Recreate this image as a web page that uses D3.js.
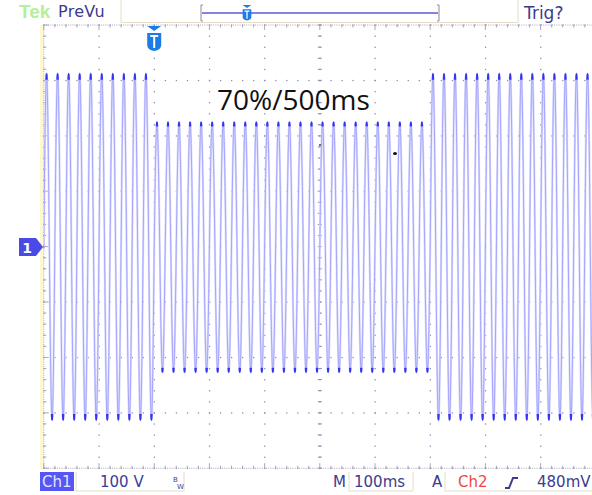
<!DOCTYPE html>
<meta charset="utf-8">
<script src="https://d3js.org/d3.v7.min.js"></script>
<style>
  body { margin: 0; background: #fff; }
  svg { display: block; }
</style>
<body>
<script>
"use strict"

// horizontal: 100 ms/div, trigger at 2 div from the left edge
var timeDomainMs = [-200, 800]
// vertical: 100 V/div, 8 divisions
var voltDomain = [-400, 400]

// peak voltage of each 20 ms cycle (50 Hz mains)
var cyclePosPeakV = [311, 311, 311, 311, 311, 311, 311, 311, 311, 311,
                     224, 224, 224, 224, 224, 224, 224, 224, 224, 224,
                     224, 224, 224, 224, 224, 224, 224, 224, 224, 224,
                     224, 224, 224, 224, 224, 311, 311, 311, 311, 311,
                     311, 311, 311, 311, 311, 311, 311, 311, 311, 311]
var cycleNegPeakV = [-312, -312, -312, -312, -312, -312, -312, -312, -312, -312,
                     -226, -226, -226, -226, -226, -226, -226, -226, -226, -226,
                     -226, -226, -226, -226, -226, -226, -226, -226, -226, -226,
                     -226, -226, -226, -226, -226, -312, -312, -312, -312, -312,
                     -312, -312, -312, -312, -312, -312, -312, -312, -312, -312]
var cycleMs = 20

var annotation = "70%/500ms"
var headerLeft = ["Tek", "PreVu"]
var footerTexts = ["Ch1", "100 V", "M", "100ms", "A", "Ch2", "480mV"]

var W = 592, H = 495
var svg = d3.select("body").append("svg").attr("width", W).attr("height", H)

var x = d3.scaleLinear().domain(timeDomainMs).range([43.8, 595.8])
var y = d3.scaleLinear().domain(voltDomain).range([468.2, 25])

var grid = svg.append("g")
var dotColor = "#8e8eb4"

// left yellow strip
grid.append("rect").attr("x", 40).attr("y", 25).attr("width", 3.5).attr("height", 444).attr("fill", "#fdf8d0")

// dotted major grid lines, a dot every 1/5 division
var majorT = d3.range(-200, 801, 100)
var majorV = d3.range(-400, 401, 100)
var minorT = d3.range(-200, 801, 20)
var minorV = d3.range(-400, 401, 20)

majorT.forEach(function(t) {
  minorV.forEach(function(v) {
    grid.append("rect").attr("x", x(t) - 0.5).attr("y", y(v) - 0.5)
      .attr("width", 1.3).attr("height", 1.3).attr("fill", dotColor)
  })
})
majorV.forEach(function(v) {
  minorT.forEach(function(t) {
    grid.append("rect").attr("x", x(t) - 0.5).attr("y", y(v) - 0.5)
      .attr("width", 1.3).attr("height", 1.3).attr("fill", dotColor)
  })
})

// frame edges: dense dots with small ticks
function edgeH(yy, dir) {
  grid.append("line").attr("x1", x(-200)).attr("x2", W).attr("y1", yy).attr("y2", yy)
    .attr("stroke", "#a8a8b8").attr("stroke-dasharray", "1,1.2")
  minorT.forEach(function(t) {
    var len = (t % 100 === 0) ? 5 : 2.5
    grid.append("line").attr("x1", x(t)).attr("x2", x(t)).attr("y1", yy).attr("y2", yy + dir * len)
      .attr("stroke", "#a8a8c0")
  })
}
function edgeV(xx, dir) {
  grid.append("line").attr("x1", xx).attr("x2", xx).attr("y1", y(400)).attr("y2", y(-400))
    .attr("stroke", "#a8a8b8").attr("stroke-dasharray", "1,1.2")
  minorV.forEach(function(v) {
    var len = (v % 100 === 0) ? 5 : 2.5
    grid.append("line").attr("x1", xx).attr("x2", xx + dir * len).attr("y1", y(v)).attr("y2", y(v))
      .attr("stroke", "#a8a8c0")
  })
}
edgeH(y(400), 1)
edgeH(y(-400), -1)
edgeV(x(-200), 1)

// center crosshair ticks
minorT.forEach(function(t) {
  grid.append("line").attr("x1", x(t)).attr("x2", x(t)).attr("y1", y(0) - 2).attr("y2", y(0) + 2)
    .attr("stroke", dotColor)
})
minorV.forEach(function(v) {
  grid.append("line").attr("x1", x(300) - 2).attr("x2", x(300) + 2).attr("y1", y(v)).attr("y2", y(v))
    .attr("stroke", dotColor)
})

// waveform: one half sine per half cycle, scaled to the peak
var pts = [], tips = []
cyclePosPeakV.forEach(function(pk, k) {
  var t0 = timeDomainMs[0] + k * cycleMs
  var halves = [[t0, pk], [t0 + cycleMs / 2, cycleNegPeakV[k]]]
  halves.forEach(function(h) {
    var tip = []
    for (var s = 0; s < 10; s += 0.1) {
      var p = [h[0] + s, h[1] * Math.sin(Math.PI * s / 10)]
      pts.push(p)
      if (s > 4.2 && s < 5.8) tip.push(p)
    }
    tips.push(tip)
  })
})
pts.push([timeDomainMs[1], 0])

var line = d3.line().x(function(d) { return x(d[0]) }).y(function(d) { return y(d[1]) })
svg.append("clipPath").attr("id", "scr").append("rect")
  .attr("x", x(-200)).attr("y", y(400)).attr("width", W - x(-200)).attr("height", y(-400) - y(400))

var trace = svg.append("g").attr("clip-path", "url(#scr)")
trace.append("path").datum(pts).attr("d", line)
  .attr("fill", "none").attr("stroke", "#dcdcff").attr("stroke-width", 2.2)
trace.append("path").datum(pts).attr("d", line)
  .attr("fill", "none").attr("stroke", "#8c8cfa").attr("stroke-width", 0.7)
trace.selectAll(".tip").data(tips).enter().append("path")
  .attr("d", line).attr("fill", "none").attr("stroke", "#3434f2").attr("stroke-width", 1.6)

// annotation
svg.append("text").attr("x", 217).attr("y", 110).text(annotation)
  .attr("font-family", "'Open Sans', sans-serif").attr("font-size", 28).attr("fill", "#111")

// stray specks on the screen
svg.append("ellipse").attr("cx", 395).attr("cy", 153.5).attr("rx", 2).attr("ry", 1.6).attr("fill", "#111")
svg.append("circle").attr("cx", 320).attr("cy", 145).attr("r", 0.9).attr("fill", "#333")

// channel 1 ground marker
svg.append("path").attr("d", "M19,238 L36,238 L43,247 L36,256 L19,256 Z").attr("fill", "#4a4ae6")
svg.append("text").attr("x", 27).attr("y", 253).text("1").attr("fill", "#fff")
  .attr("font-family", "'DejaVu Sans', sans-serif").attr("font-weight", "bold").attr("font-size", 14)
  .attr("text-anchor", "middle")

// trigger position marker
function trigMarker(cx, top, s) {
  var g = svg.append("g").attr("transform", "translate(" + cx + "," + top + ") scale(" + s + ")")
  g.append("path").attr("d", "M-7,0 L7,0 L0,5 Z").attr("fill", "#1c7ce6")
  g.append("path").attr("d", "M-7,7 L7,7 L7,19 Q7,24 0,25 Q-7,24 -7,19 Z").attr("fill", "#1c7ce6")
  g.append("path").attr("d", "M-4,10 L4,10 M0,10 L0,22").attr("stroke", "#fff").attr("stroke-width", 2)
}
trigMarker(x(0), 26, 1)

// header
var font = "'DejaVu Sans', Verdana, sans-serif"
svg.append("path").attr("d", "M121,0 L121,22.5 L518,22.5 L518,0").attr("fill", "none").attr("stroke", "#e6dcc8")
svg.append("text").attr("x", 19).attr("y", 18).text(headerLeft[0])
  .attr("font-family", "'Liberation Sans', sans-serif").attr("font-weight", "bold").attr("font-size", 19).attr("fill", "#b4f09a")
svg.append("text").attr("x", 58).attr("y", 17).text(headerLeft[1])
  .attr("font-family", font).attr("font-size", 16).attr("letter-spacing", 0.3).attr("fill", "#3c3c8c")
// record view bar
svg.append("line").attr("x1", 202).attr("x2", 438).attr("y1", 13).attr("y2", 13).attr("stroke", "#5a5ad8").attr("stroke-width", 1.5)
svg.append("path").attr("d", "M203,5 L201,5 L201,21 L203,21").attr("fill", "none").attr("stroke", "#8a8a9a")
svg.append("path").attr("d", "M437,5 L439,5 L439,21 L437,21").attr("fill", "none").attr("stroke", "#8a8a9a")
trigMarker(247, 5, 0.62)
svg.append("text").attr("x", 524).attr("y", 19).text("Trig?")
  .attr("font-family", font).attr("font-size", 17).attr("fill", "#3c3c8c")

// footer
svg.append("rect").attr("x", 40).attr("y", 472).attr("width", 34).attr("height", 19).attr("fill", "#5656f4")
svg.append("text").attr("x", 42).attr("y", 487).text(footerTexts[0])
  .attr("font-family", font).attr("font-size", 15).attr("fill", "#e4e4ff")
svg.append("path").attr("d", "M76,472 L76,491 L184,491 L184,472").attr("fill", "none").attr("stroke", "#e6dcc8")
svg.append("text").attr("x", 100).attr("y", 487).text(footerTexts[1])
  .attr("font-family", font).attr("font-size", 15).attr("fill", "#3c3c9c")
svg.append("text").attr("x", 173).attr("y", 482).text("B").attr("font-family", font).attr("font-size", 7).attr("fill", "#3c3c9c")
svg.append("text").attr("x", 177).attr("y", 489).text("W").attr("font-family", font).attr("font-size", 7).attr("fill", "#3c3c9c")

svg.append("text").attr("x", 333).attr("y", 487).text(footerTexts[2])
  .attr("font-family", font).attr("font-size", 15).attr("fill", "#3c3c8c")
svg.append("path").attr("d", "M349,472 L349,491 L413,491 L413,472").attr("fill", "none").attr("stroke", "#e6dcc8")
svg.append("text").attr("x", 354).attr("y", 487).text(footerTexts[3])
  .attr("font-family", font).attr("font-size", 15).attr("fill", "#3c3c8c")
svg.append("text").attr("x", 432).attr("y", 487).text(footerTexts[4])
  .attr("font-family", font).attr("font-size", 15).attr("fill", "#3c3c8c")
svg.append("path").attr("d", "M445,472 L445,491 L592,491").attr("fill", "none").attr("stroke", "#e6dcc8")
svg.append("text").attr("x", 458).attr("y", 487).text(footerTexts[5])
  .attr("font-family", font).attr("font-size", 15).attr("fill", "#f04848")
svg.append("path").attr("d", "M505,488 L509,488 L513,478 L518,478").attr("fill", "none")
  .attr("stroke", "#3c3c8c").attr("stroke-width", 2)
svg.append("text").attr("x", 537).attr("y", 487).text(footerTexts[6])
  .attr("font-family", font).attr("font-size", 15).attr("fill", "#3c3c8c")
</script>
</body>
